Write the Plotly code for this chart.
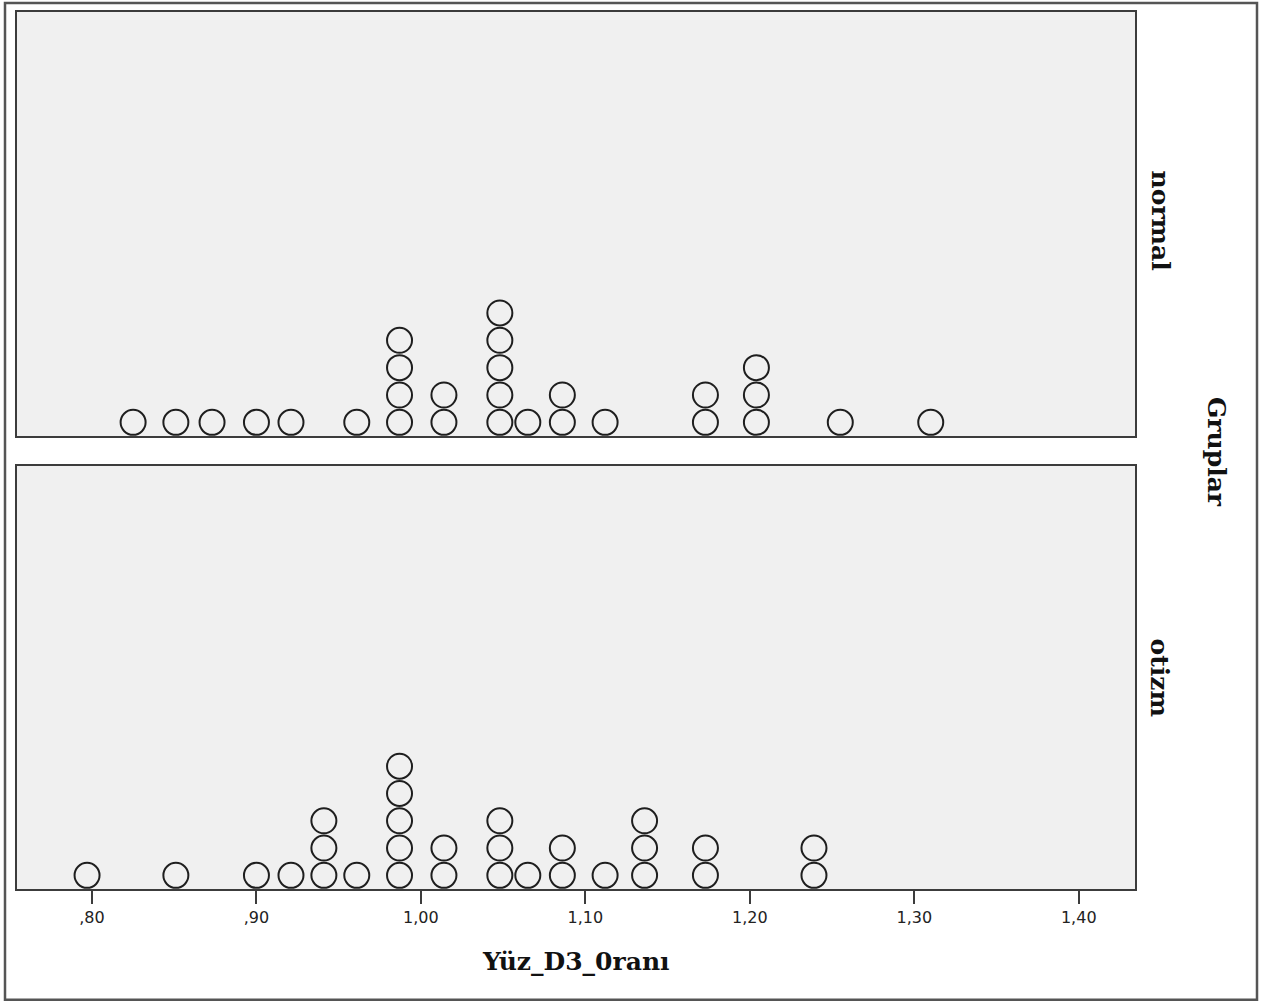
import plotly.graph_objects as go

# Dot plot of Yüz_D3_Oranı, faceted by group (Gruplar)
groups = ["normal", "otizm"]

normal_values = [0.825, 0.851, 0.873, 0.900, 0.921, 0.961, 0.987, 1.014, 1.048,
                 1.065, 1.086, 1.112, 1.173, 1.204, 1.255, 1.310]
normal_counts = [1, 1, 1, 1, 1, 1, 4, 2, 5, 1, 2, 1, 2, 3, 1, 1]

otizm_values = [0.797, 0.851, 0.900, 0.921, 0.941, 0.961, 0.987, 1.014, 1.048,
                1.065, 1.086, 1.112, 1.136, 1.173, 1.239]
otizm_counts = [1, 1, 1, 1, 3, 1, 5, 2, 3, 1, 2, 1, 3, 2, 2]

tick_vals = [0.80, 0.90, 1.00, 1.10, 1.20, 1.30, 1.40]
tick_text = [",80", ",90", "1,00", "1,10", "1,20", "1,30", "1,40"]

x_title = "Yüz_D3_0ranı"
facet_title = "Gruplar"

W, H = 1270, 1003
ML, MR, MT, MB = 17, 135, 10, 114
PW, PH = W - ML - MR, H - MT - MB

X_RANGE = [0.7544, 1.4342]
Y_RANGE = [0.5, 16.0]
PANEL_BG = "#f0f0f0"
FRAME = "#3c3c3c"


def stack(values, counts):
    xs, ys = [], []
    for v, c in zip(values, counts):
        for k in range(1, c + 1):
            xs.append(v)
            ys.append(k)
    return xs, ys


def py(pix):
    """Convert a pixel row into paper y."""
    return (H - MB - pix) / PH


def px(pix):
    return (pix - ML) / PW


fig = go.Figure()

marker = dict(size=25, color="rgba(0,0,0,0)", symbol="circle",
              line=dict(color="#1e1e1e", width=2))

for i, (vals, cnts) in enumerate([(normal_values, normal_counts),
                                  (otizm_values, otizm_counts)]):
    xs, ys = stack(vals, cnts)
    suffix = "" if i == 0 else "2"
    fig.add_trace(go.Scatter(x=xs, y=ys, mode="markers", marker=marker,
                             xaxis="x" + suffix, yaxis="y" + suffix,
                             showlegend=False, hoverinfo="x"))

top_dom = [py(435), 1.0]
bot_dom = [0.0, py(465)]

axis_common = dict(range=X_RANGE, showgrid=False, zeroline=False,
                   showline=True, linecolor=FRAME, linewidth=2, mirror=True)
yaxis_common = dict(range=Y_RANGE, showgrid=False, zeroline=False,
                    showticklabels=False, ticks="", showline=True,
                    linecolor=FRAME, linewidth=2, mirror=True)

fig.update_layout(
    width=W, height=H,
    margin=dict(l=ML, r=MR, t=MT, b=MB),
    paper_bgcolor="white",
    plot_bgcolor=PANEL_BG,
    xaxis=dict(**axis_common, anchor="y", domain=[0, 1],
               showticklabels=False, ticks=""),
    yaxis=dict(**yaxis_common, anchor="x", domain=top_dom),
    xaxis2=dict(**axis_common, anchor="y2", domain=[0, 1], matches="x",
                tickmode="array", tickvals=tick_vals, ticktext=tick_text,
                ticks="outside", ticklen=13, tickwidth=2, tickcolor=FRAME,
                tickfont=dict(family="DejaVu Sans", size=16, color="#222")),
    yaxis2=dict(**yaxis_common, anchor="x2", domain=bot_dom),
)

serif = dict(family="DejaVu Serif", size=25, color="#111")

annotations = [
    dict(text="<b>" + x_title + "</b>", x=px(576), y=py(962),
         xref="paper", yref="paper", showarrow=False,
         xanchor="center", yanchor="middle", font=serif),
    dict(text="<b>" + groups[0] + "</b>", x=px(1160), y=py(219),
         xref="paper", yref="paper", showarrow=False, textangle=90,
         xanchor="center", yanchor="middle", font=serif),
    dict(text="<b>" + groups[1] + "</b>", x=px(1160), y=py(677),
         xref="paper", yref="paper", showarrow=False, textangle=90,
         xanchor="center", yanchor="middle", font=serif),
    dict(text="<b>" + facet_title + "</b>", x=px(1216), y=py(451),
         xref="paper", yref="paper", showarrow=False, textangle=90,
         xanchor="center", yanchor="middle", font=serif),
]
fig.update_layout(annotations=annotations)

# outer frame around the whole chart
fig.add_shape(type="rect", xref="paper", yref="paper",
              x0=px(5), x1=px(1257), y0=py(1000), y1=py(1),
              line=dict(color="#555", width=2.5), fillcolor="rgba(0,0,0,0)",
              layer="above")

fig.write_html("out.html")
